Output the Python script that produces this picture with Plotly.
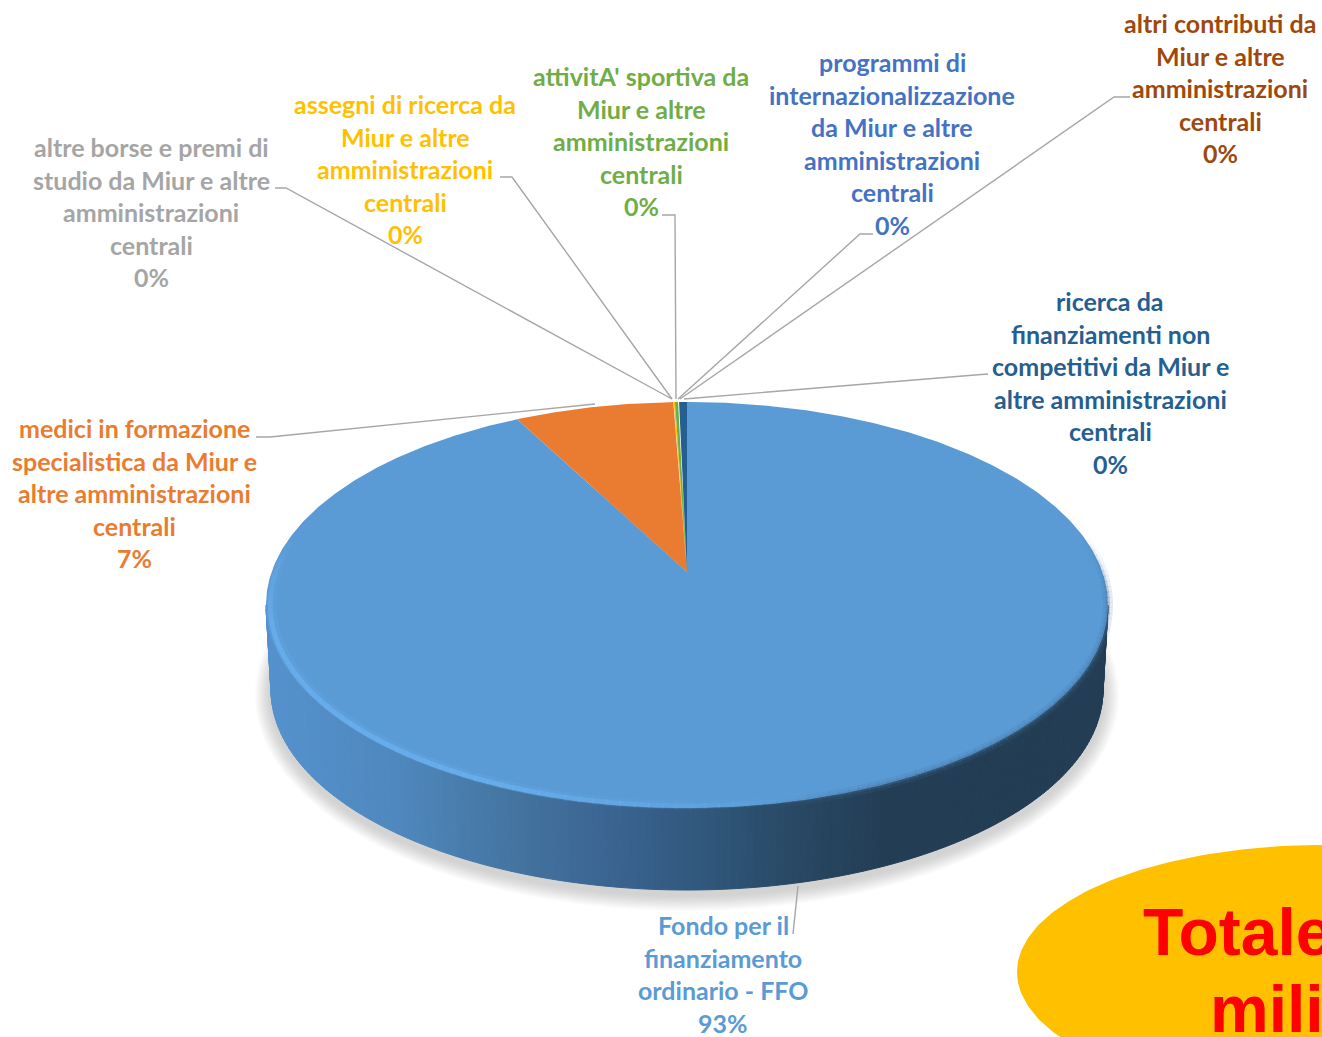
import numpy as np
import plotly.graph_objects as go

# ---- data ----
categories = [
    ["Fondo per il", "finanziamento", "ordinario - FFO"],
    ["medici in formazione", "specialistica da Miur e", "altre amministrazioni", "centrali"],
    ["altre borse e premi di", "studio da Miur e altre", "amministrazioni", "centrali"],
    ["assegni di ricerca da", "Miur e altre", "amministrazioni", "centrali"],
    ["attivitA' sportiva da", "Miur e altre", "amministrazioni", "centrali"],
    ["programmi di", "internazionalizzazione", "da Miur e altre", "amministrazioni", "centrali"],
    ["altri contributi da", "Miur e altre", "amministrazioni", "centrali"],
    ["ricerca da", "finanziamenti non", "competitivi da Miur e", "altre amministrazioni", "centrali"],
]
values = [92.83, 6.6, 0.02, 0.05, 0.13, 0.02, 0.02, 0.33]
colors = ["#5B9BD5", "#E97C30", "#A5A5A5", "#FFC000", "#70AD47", "#4472C4", "#9E480E", "#255E91"]
label_centers_x = [723, 134, 151, 405, 641, 892, 1220, 1110]
label_first_y = [925, 428, 147, 104, 76, 62, 23, 301]
total_note = ["Totale", "mili"]

# ---- layout geometry (pixels) ----
W, H = 1322, 1037
CX, CY, RX, RY = 687, 605, 421, 203
BCY, BRX, BRY = 690, 416, 200
APEX = (687, 572)
PERSPECTIVE = 0.045   # the far side of the disc looks compressed
LINE_STEP = 32.6
FONT = "Lato"
FONT_SIZE = 25

leaders = [
    ([793, 798], [934, 886]),
    ([256, 270, 595], [437, 437, 404]),
    ([275, 286, 672], [188, 188, 399]),
    ([500, 512, 672], [177, 177, 399]),
    ([662, 675, 676], [215, 215, 399]),
    ([873, 860, 678], [234, 234, 399]),
    ([1130, 1114, 680], [97, 97, 399]),
    ([988, 975, 684], [374, 375, 399]),
]

def top_pt(t):
    return CX + RX * np.sin(t), CY - RY * np.cos(t)

def bot_pt(t):
    return CX + BRX * np.sin(t), BCY - BRY * np.cos(t)

def poly(x, y, color, line=0.0):
    return go.Scatter(x=list(x), y=list(y), mode="lines", fill="toself", fillcolor=color,
                      line=dict(color=color, width=line), hoverinfo="skip", showlegend=False)

def hex_rgb(h):
    return np.array([int(h[i:i + 2], 16) for i in (1, 3, 5)], float)

def band(deg_a, deg_b, fade_in, fade_out, rgb, alpha, width, scale=1.0, n=70):
    seg = np.radians(np.linspace(deg_a, deg_b, n))
    for a, b in zip(seg[:-1], seg[1:]):
        mid = np.degrees((a + b) / 2)
        fade = np.clip(min((mid - deg_a) / fade_in, (deg_b - mid) / fade_out), 0, 1)
        x, y = top_pt(np.array([a, b + 0.003]))
        fig.add_trace(go.Scatter(x=CX + (x - CX) * scale, y=CY + (y - CY) * scale, mode="lines",
                                 hoverinfo="skip", showlegend=False,
                                 line=dict(color=f"rgba({rgb},{alpha * fade:.3f})", width=width)))

fig = go.Figure()

# soft shadow below the disc
for i in range(12):
    grow = 16 - i * 1.3
    t = np.linspace(0, 2 * np.pi, 240)
    fig.add_trace(poly(CX + (BRX + grow) * np.sin(t), BCY + 5 + (BRY + grow) * np.cos(t),
                       "rgba(120,120,120,0.03)"))

# side wall: shading follows the horizontal position
stops_x = [265, 400, 520, 620, 720, 800, 880, 1110]
stops_c = ["#5592CE", "#4F88BD", "#44739F", "#3A6390", "#2F5578", "#294863", "#243E56", "#233D54"]
stops_rgb = np.array([hex_rgb(c) for c in stops_c])
ts = np.linspace(np.pi / 2, 3 * np.pi / 2, 170)
for a, b in zip(ts[:-1], ts[1:]):
    xa, ya = top_pt(a); xb, yb = top_pt(b)
    xc, yc = bot_pt(b); xd, yd = bot_pt(a)
    xm = (xa + xb) / 2
    rgb = [np.interp(xm, stops_x, stops_rgb[:, k]) for k in range(3)]
    col = "rgb(%d,%d,%d)" % tuple(rgb)
    fig.add_trace(poly([xa, xb, xc, xd, xa], [ya, yb, yc, yd, ya], col, 1.0))

# top face: one polygon per slice, swept clockwise from 12 o'clock
fractions = np.array(values) / sum(values)
edges = np.concatenate([[0], np.cumsum(fractions)]) * 2 * np.pi
for v, c, a, b in zip(values, colors, edges[:-1], edges[1:]):
    t = np.linspace(a, b, max(int((b - a) * 120), 3))
    t = t - PERSPECTIVE * np.sin(2 * t)
    x, y = top_pt(t)
    fig.add_trace(poly([APEX[0], *x, APEX[0]], [APEX[1], *y, APEX[1]], c))

# soft dark edge on the right, light bevel on the left
band(70, 172, 18, 18, "70,115,160", 0.15, 10)
band(70, 172, 18, 18, "70,115,160", 0.3, 4)
band(158, 292, 50, 30, "100,170,235", 0.25, 9, 0.985)
band(158, 292, 50, 30, "108,180,245", 0.6, 5, 0.99)

# leader lines
for lx, ly in leaders:
    fig.add_trace(go.Scatter(x=lx, y=ly, mode="lines", hoverinfo="skip", showlegend=False,
                             line=dict(color="#A6A6A6", width=1.4)))

# gold note
t = np.linspace(0, 2 * np.pi, 300)
fig.add_trace(poly(1322 + 305 * np.cos(t), 972 + 127 * np.sin(t), "#FFC000"))

annotations = []
for lines, v, c, lx, ly in zip(categories, values, colors, label_centers_x, label_first_y):
    pct = f"{round(v / sum(values) * 100)}%"
    for i, text in enumerate(lines + [pct]):
        annotations.append(dict(x=lx, y=ly + i * LINE_STEP, text=text, showarrow=False,
                                xanchor="center", yanchor="middle",
                                font=dict(family=FONT, size=FONT_SIZE, color=c, weight="bold")))
for text, lx, ly in zip(total_note, [1141, 1208], [932, 1009]):
    annotations.append(dict(x=lx, y=ly, text=text, showarrow=False, xanchor="left", yanchor="middle",
                            font=dict(family="Liberation Sans", size=66, color="#FF0000", weight="bold")))

fig.update_layout(
    width=W, height=H, margin=dict(l=0, r=0, t=0, b=0), autosize=False,
    paper_bgcolor="white", plot_bgcolor="white", showlegend=False,
    xaxis=dict(range=[0, W], visible=False, fixedrange=True),
    yaxis=dict(range=[H, 0], visible=False, fixedrange=True),
    annotations=annotations,
)
fig.write_html("out.html", config=dict(displayModeBar=False),
               post_script="document.body.style.margin='0';document.documentElement.style.overflow='hidden';")
